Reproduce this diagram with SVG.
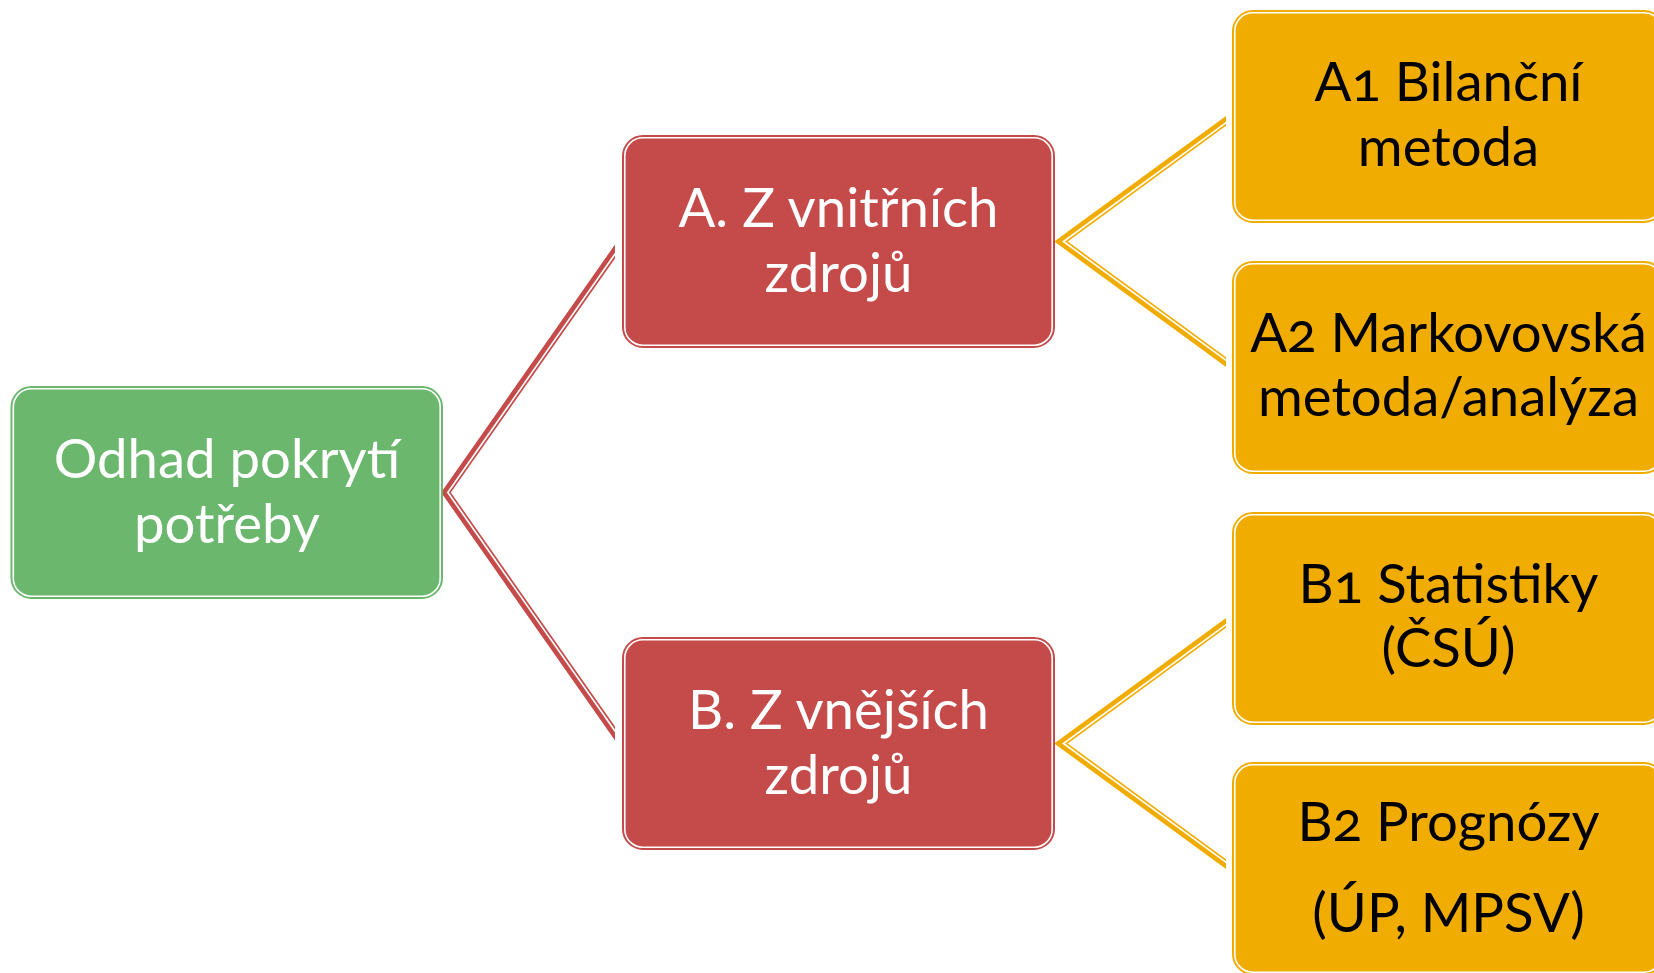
<svg xmlns="http://www.w3.org/2000/svg" width="1654" height="973" viewBox="0 0 1654 973">
<defs>
<style>
.g-out{fill:#6BB76E;stroke:#6BB76E;stroke-width:2}
.r-out{fill:#C54A4A;stroke:#C54A4A;stroke-width:2}
.o-out{fill:#F0AC00;stroke:#F0AC00;stroke-width:2}
.inner{fill:none;stroke:#FFFFFF;stroke-width:1.6}
.t{font-family:Lato,"Open Sans","Liberation Sans",sans-serif;font-size:54.5px;text-anchor:middle;font-variant-numeric:oldstyle-nums}
.tw{fill:#FFFFFF}
.tb{fill:#000000}
.c-red{fill:none;stroke:#C54A4A;stroke-width:8;stroke-linejoin:miter}
.c-org{fill:none;stroke:#F0AC00;stroke-width:8;stroke-linejoin:miter}
.c-gap{fill:none;stroke:#FFFFFF;stroke-width:1.7;stroke-linejoin:miter}
</style>
<clipPath id="clip-red"><rect x="0" y="0" width="615" height="973"/></clipPath>
<clipPath id="clip-org"><rect x="0" y="0" width="1226" height="973"/></clipPath>
</defs>
<rect width="1654" height="973" fill="#FFFFFF"/>
<g id="connectors">
<g clip-path="url(#clip-red)">
<path class="c-red" d="M622,241.5 L446,492.5 L622,743.5"/>
<path class="c-gap" d="M623.2,242.3 L447.8,492.5 L623.2,742.7"/>
</g>
<g clip-path="url(#clip-org)">
<path class="c-org" d="M1232,116.5 L1061,241.5 L1232,366.5"/>
<path class="c-gap" d="M1232.85,117.67 L1063.5,241.5 L1232.85,365.33"/>
<path class="c-org" d="M1232,618.5 L1061,743.5 L1232,868.5"/>
<path class="c-gap" d="M1232.85,619.67 L1063.5,743.5 L1232.85,867.33"/>
</g>
</g>
<g id="node-root">
<rect class="g-out" x="11.5" y="387" width="430.5" height="211" rx="20"/>
<rect class="inner" x="13.3" y="388.8" width="426.9" height="207.4" rx="18"/>
<text class="t tw" x="227" y="478">Odhad pokrytí</text>
<text class="t tw" x="227" y="543">potřeby</text>
</g>
<g id="node-a">
<rect class="r-out" x="623" y="136" width="431" height="211" rx="20"/>
<rect class="inner" x="624.8" y="137.8" width="427.4" height="207.4" rx="18"/>
<text class="t tw" x="838.5" y="227">A. Z vnitřních</text>
<text class="t tw" x="838.5" y="292">zdrojů</text>
</g>
<g id="node-b">
<rect class="r-out" x="623" y="638" width="431" height="211" rx="20"/>
<rect class="inner" x="624.8" y="639.8" width="427.4" height="207.4" rx="18"/>
<text class="t tw" x="838.5" y="729">B. Z vnějších</text>
<text class="t tw" x="838.5" y="794">zdrojů</text>
</g>
<g id="node-a1">
<rect class="o-out" x="1233" y="11" width="431" height="211" rx="20"/>
<rect class="inner" x="1234.8" y="12.8" width="427.4" height="207.4" rx="18"/>
<text class="t tb" x="1448.5" y="101">A1 Bilanční</text>
<text class="t tb" x="1448.5" y="166">metoda</text>
</g>
<g id="node-a2">
<rect class="o-out" x="1233" y="262" width="431" height="211" rx="20"/>
<rect class="inner" x="1234.8" y="263.8" width="427.4" height="207.4" rx="18"/>
<text class="t tb" x="1448.5" y="352">A2 Markovovská</text>
<text class="t tb" x="1448.5" y="416">metoda/analýza</text>
</g>
<g id="node-b1">
<rect class="o-out" x="1233" y="513" width="431" height="211" rx="20"/>
<rect class="inner" x="1234.8" y="514.8" width="427.4" height="207.4" rx="18"/>
<text class="t tb" x="1448.5" y="603">B1 Statistiky</text>
<text class="t tb" x="1448.5" y="667">(ČSÚ)</text>
</g>
<g id="node-b2">
<rect class="o-out" x="1233" y="763" width="431" height="211" rx="20"/>
<rect class="inner" x="1234.8" y="764.8" width="427.4" height="207.4" rx="18"/>
<text class="t tb" x="1448.5" y="841">B2 Prognózy</text>
<text class="t tb" x="1448.5" y="932">(ÚP, MPSV)</text>
</g>
</svg>
